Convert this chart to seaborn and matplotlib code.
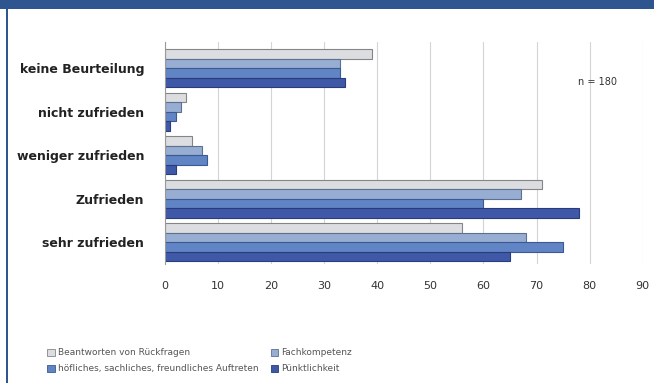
import pandas as pd
import matplotlib.pyplot as plt
import seaborn as sns

# ---------------------------------
# Data
# ---------------------------------

categories = ["keine Beurteilung", "nicht zufrieden", "weniger zufrieden",
              "Zufrieden", "sehr zufrieden"]

series = ["Beantworten von Rückfragen", "Fachkompetenz",
          "höfliches, sachliches, freundliches Auftreten", "Pünktlichkeit"]

beantworten = [39, 4, 5, 71, 56]
fachkompetenz = [33, 3, 7, 67, 68]
hoeflich = [33, 2, 8, 60, 75]
puenktlich = [34, 1, 2, 78, 65]

x_ticks = [0, 10, 20, 30, 40, 50, 60, 70, 80, 90]

df = pd.DataFrame({
    "category": categories * 4,
    "series": [s for s in series for _ in categories],
    "value": beantworten + fachkompetenz + hoeflich + puenktlich,
})

colors = ["#dcdde0", "#98add2", "#6184c4", "#3f59a8"]
edges = ["#858585", "#5d7092", "#3b5a94", "#2a3c7c"]

# ---------------------------------
# Plot
# ---------------------------------

sns.set_style("white")
fig = plt.figure(figsize=(6.54, 3.83), dpi=100)
ax = fig.add_axes([0.2523, 0.311, 0.7304, 0.579])

sns.barplot(
    data=df, y="category", x="value", hue="series",
    order=categories, hue_order=series, palette=colors, saturation=1,
    orient="h", width=0.88, ax=ax, legend=False,
)

for cont, ec in zip(ax.containers, edges):
    for bar in cont:
        bar.set_edgecolor(ec)
        bar.set_linewidth(0.8)

ax.set_xlim(0, 90)
ax.set_ylim(4.50, -0.60)
ax.set_xticks(x_ticks)
ax.set_xticklabels([str(t) for t in x_ticks], fontsize=8, color="#333333")
ax.tick_params(axis="x", length=0, pad=12)
ax.tick_params(axis="y", length=0, pad=15)
for lbl in ax.get_yticklabels():
    lbl.set_fontsize(9)
    lbl.set_fontweight("bold")
    lbl.set_color("#222222")

ax.grid(axis="x", color="#d4d4d4", linewidth=0.8)
ax.set_axisbelow(True)
for side in ["top", "right", "bottom"]:
    ax.spines[side].set_visible(False)
ax.spines["left"].set_color("#9a9a9a")
ax.set_xlabel("")
ax.set_ylabel("")

ax.text(0.865, 0.82, "n = 180", transform=ax.transAxes, fontsize=7,
        color="#333333", ha="left", va="center")

# ---------------------------------
# Legend
# ---------------------------------

handles = [plt.Rectangle((0, 0), 1, 1, facecolor=c, edgecolor=e, linewidth=0.6)
           for c, e in zip(colors, edges)]
order = [0, 2, 1, 3]
fig.legend(
    [handles[i] for i in order], [series[i] for i in order],
    ncol=2, loc="upper left", bbox_to_anchor=(0.06, 0.112),
    frameon=False, fontsize=6.5, handlelength=0.8, handleheight=0.8,
    handletextpad=0.4, columnspacing=1.3, labelspacing=0.8,
    labelcolor="#555555",
)

# ---------------------------------
# Frame: header band and left border
# ---------------------------------

fig.patches.append(plt.Rectangle((0, 1 - 9 / 383), 1, 9 / 383,
                                 transform=fig.transFigure,
                                 facecolor="#2f5591", edgecolor="none"))
fig.patches.append(plt.Rectangle((6 / 654, 0), 1.5 / 654, 1,
                                 transform=fig.transFigure,
                                 facecolor="#2f5591", edgecolor="none"))

fig.savefig("out.png", dpi=100)
